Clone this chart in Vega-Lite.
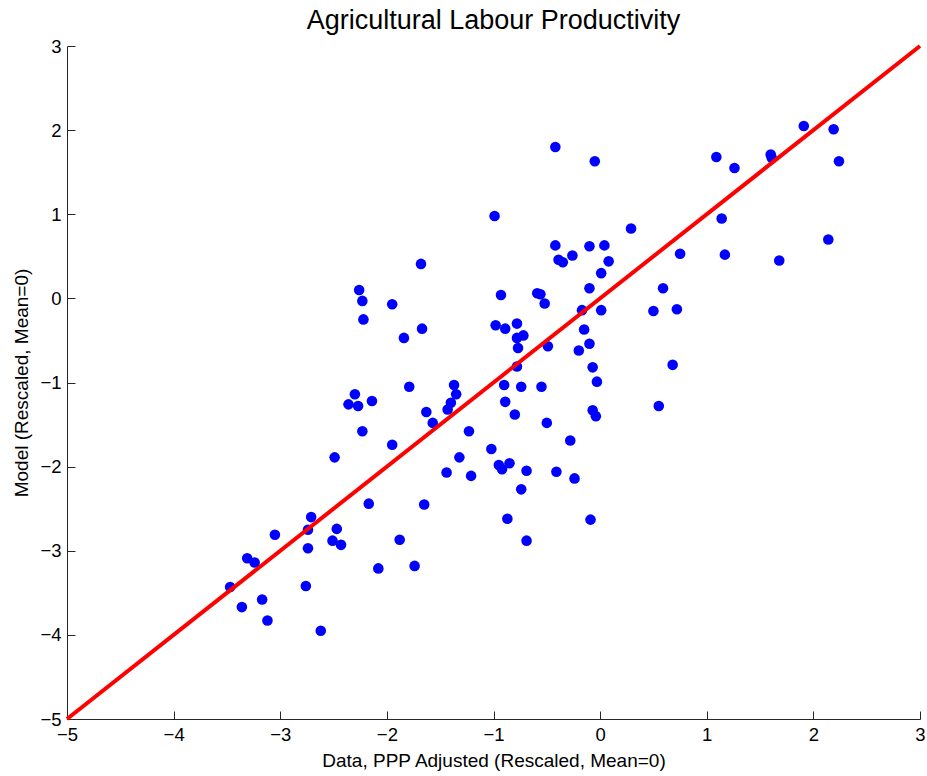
{
  "$schema": "https://vega.github.io/schema/vega-lite/v6.json",
  "autosize": "none",
  "width": 853,
  "height": 673,
  "padding": {"left": 67, "top": 46, "right": 7, "bottom": 57},
  "title": {
    "text": "Agricultural Labour Productivity",
    "frame": "group",
    "anchor": "middle",
    "baseline": "alphabetic",
    "offset": 0,
    "dy": 19,
    "fontSize": 27,
    "fontWeight": "normal",
    "color": "#000000",
    "font": "Liberation Sans"
  },
  "config": {
    "view": {"stroke": null},
    "font": "Liberation Sans",
    "axis": {
      "grid": false,
      "domainColor": "#262626",
      "domainWidth": 1,
      "tickColor": "#262626",
      "tickWidth": 1,
      "tickSize": -8,
      "labelColor": "#000000",
      "labelFontSize": 18.5,
      "labelFlush": false,
      "labelOverlap": false,
      "titleColor": "#000000",
      "titleFontSize": 19,
      "titleFontWeight": "normal"
    }
  },
  "datasets": {
    "countries": [
      {"data": -2.26, "model": 0.10}, {"data": -2.23, "model": -0.03}, {"data": -2.22, "model": -0.25},
      {"data": -0.99, "model": 0.98}, {"data": -1.68, "model": 0.41}, {"data": -0.93, "model": 0.04},
      {"data": -0.59, "model": 0.06}, {"data": -0.56, "model": 0.05}, {"data": -0.52, "model": -0.06},
      {"data": -1.95, "model": -0.07}, {"data": -1.84, "model": -0.47}, {"data": -1.67, "model": -0.36},
      {"data": -0.98, "model": -0.32}, {"data": -0.89, "model": -0.36}, {"data": -0.78, "model": -0.30},
      {"data": -0.72, "model": -0.44}, {"data": -0.78, "model": -0.47}, {"data": -0.77, "model": -0.59},
      {"data": -0.78, "model": -0.81}, {"data": -1.79, "model": -1.05}, {"data": -1.37, "model": -1.03},
      {"data": -0.90, "model": -1.03}, {"data": -0.74, "model": -1.05}, {"data": -0.42, "model": 1.80},
      {"data": -0.05, "model": 1.63}, {"data": 0.29, "model": 0.83}, {"data": -0.42, "model": 0.63},
      {"data": -0.10, "model": 0.62}, {"data": 0.04, "model": 0.63}, {"data": -0.39, "model": 0.46},
      {"data": -0.35, "model": 0.43}, {"data": -0.26, "model": 0.51}, {"data": 0.08, "model": 0.44},
      {"data": 0.01, "model": 0.30}, {"data": 0.75, "model": 0.53}, {"data": -0.10, "model": 0.12},
      {"data": 0.59, "model": 0.12}, {"data": -0.17, "model": -0.14}, {"data": 0.01, "model": -0.14},
      {"data": 0.50, "model": -0.15}, {"data": 0.72, "model": -0.13}, {"data": -0.15, "model": -0.37},
      {"data": -0.49, "model": -0.57}, {"data": -0.10, "model": -0.54}, {"data": -0.20, "model": -0.62},
      {"data": -0.07, "model": -0.82}, {"data": -0.03, "model": -0.99}, {"data": 0.68, "model": -0.79},
      {"data": -0.55, "model": -1.05}, {"data": 1.09, "model": 1.68}, {"data": 1.26, "model": 1.55},
      {"data": 1.60, "model": 1.71}, {"data": 1.61, "model": 1.67}, {"data": 1.91, "model": 2.05},
      {"data": 2.19, "model": 2.01}, {"data": 2.24, "model": 1.63}, {"data": 1.14, "model": 0.95},
      {"data": 1.17, "model": 0.52}, {"data": 1.68, "model": 0.45}, {"data": 2.14, "model": 0.70},
      {"data": -2.30, "model": -1.14}, {"data": -2.36, "model": -1.26}, {"data": -2.27, "model": -1.28},
      {"data": -2.14, "model": -1.22}, {"data": -2.23, "model": -1.58}, {"data": -2.49, "model": -1.89},
      {"data": -2.17, "model": -2.44}, {"data": -2.71, "model": -2.60}, {"data": -2.74, "model": -2.75},
      {"data": -3.05, "model": -2.81}, {"data": -2.47, "model": -2.74}, {"data": -2.51, "model": -2.88},
      {"data": -2.43, "model": -2.93}, {"data": -2.74, "model": -2.97}, {"data": -3.31, "model": -3.09},
      {"data": -3.24, "model": -3.14}, {"data": -3.47, "model": -3.43}, {"data": -2.76, "model": -3.42},
      {"data": -3.17, "model": -3.58}, {"data": -3.36, "model": -3.67}, {"data": -3.12, "model": -3.83},
      {"data": -2.62, "model": -3.95}, {"data": -1.35, "model": -1.14}, {"data": -1.40, "model": -1.24},
      {"data": -1.43, "model": -1.32}, {"data": -1.63, "model": -1.35}, {"data": -1.57, "model": -1.48},
      {"data": -1.95, "model": -1.74}, {"data": -1.23, "model": -1.58}, {"data": -0.89, "model": -1.23},
      {"data": -0.80, "model": -1.38}, {"data": -1.02, "model": -1.79}, {"data": -1.32, "model": -1.89},
      {"data": -1.44, "model": -2.07}, {"data": -1.21, "model": -2.11}, {"data": -0.95, "model": -1.98},
      {"data": -0.92, "model": -2.03}, {"data": -0.85, "model": -1.96}, {"data": -0.69, "model": -2.05},
      {"data": -0.74, "model": -2.27}, {"data": -1.65, "model": -2.45}, {"data": -0.87, "model": -2.62},
      {"data": -0.69, "model": -2.88}, {"data": -1.88, "model": -2.87}, {"data": -2.08, "model": -3.21},
      {"data": -1.74, "model": -3.18}, {"data": -0.07, "model": -1.33}, {"data": -0.04, "model": -1.40},
      {"data": 0.55, "model": -1.28}, {"data": -0.50, "model": -1.48}, {"data": -0.28, "model": -1.69},
      {"data": -0.41, "model": -2.06}, {"data": -0.24, "model": -2.14}, {"data": -0.09, "model": -2.63}
    ],
    "fit": [
      {"data": -5, "model": -5},
      {"data": 3, "model": 3}
    ]
  },
  "layer": [
    {
      "data": {"name": "countries"},
      "mark": {"type": "circle", "size": 112, "opacity": 1, "color": "#0000ff"},
      "encoding": {
        "x": {
          "field": "data",
          "type": "quantitative",
          "scale": {"domain": [-5, 3], "nice": false, "zero": false},
          "axis": {
            "values": [-5, -4, -3, -2, -1, 0, 1, 2, 3],
            "format": "d",
            "labelPadding": 14,
            "title": "Data, PPP Adjusted (Rescaled, Mean=0)",
            "titleBaseline": "alphabetic",
            "titleY": 47
          }
        },
        "y": {
          "field": "model",
          "type": "quantitative",
          "scale": {"domain": [-5, 3], "nice": false, "zero": false},
          "axis": {
            "values": [-5, -4, -3, -2, -1, 0, 1, 2, 3],
            "format": "d",
            "labelPadding": 14,
            "title": "Model (Rescaled, Mean=0)",
            "titleBaseline": "alphabetic",
            "titleX": -40
          }
        }
      }
    },
    {
      "data": {"name": "fit"},
      "mark": {"type": "line", "color": "#ff0000", "strokeWidth": 4},
      "encoding": {
        "x": {"field": "data", "type": "quantitative"},
        "y": {"field": "model", "type": "quantitative"}
      }
    }
  ]
}
